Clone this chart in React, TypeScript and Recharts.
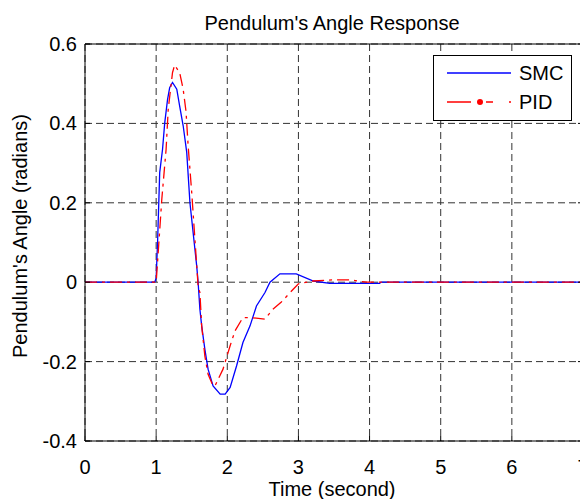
import { LineChart, Line, XAxis, YAxis, CartesianGrid } from 'recharts';

const smcTime = [0, 0.98, 1.0, 1.02, 1.05, 1.09, 1.12, 1.16, 1.19, 1.23, 1.29, 1.33, 1.38, 1.43, 1.475, 1.52, 1.57, 1.59, 1.615, 1.64, 1.685, 1.73, 1.8, 1.9, 1.97, 2.04, 2.13, 2.22, 2.32, 2.41, 2.53, 2.6, 2.74, 2.97, 3.21, 3.44, 4.14, 4.16, 7];
const smcAngle = [0, 0, 0.01, 0.1, 0.276, 0.335, 0.4, 0.46, 0.49, 0.503, 0.486, 0.444, 0.394, 0.327, 0.2, 0.125, 0.041, 0, -0.068, -0.11, -0.169, -0.219, -0.261, -0.282, -0.282, -0.265, -0.211, -0.152, -0.11, -0.06, -0.026, 0, 0.021, 0.021, 0.003, -0.003, -0.003, 0, 0];

const pidTime = [0, 1.0, 1.01, 1.08, 1.14, 1.17, 1.23, 1.26, 1.33, 1.38, 1.42, 1.45, 1.5, 1.545, 1.59, 1.615, 1.64, 1.685, 1.73, 1.8, 1.83, 1.94, 2.04, 2.11, 2.22, 2.32, 2.53, 2.64, 2.76, 2.93, 3.0, 3.21, 3.49, 3.72, 3.96, 7];
const pidAngle = [0, 0, 0.025, 0.21, 0.335, 0.436, 0.528, 0.547, 0.528, 0.486, 0.43, 0.343, 0.226, 0.108, -0.01, -0.026, -0.11, -0.186, -0.232, -0.261, -0.26, -0.219, -0.16, -0.122, -0.089, -0.089, -0.093, -0.068, -0.05, -0.017, -0.004, 0.003, 0.006, 0.006, 0, 0];

const xTicks = [0, 1, 2, 3, 4, 5, 6, 7];
const yTicks = [-0.4, -0.2, 0, 0.2, 0.4, 0.6];

const smcData = smcTime.map((t, i) => ({ t, angle: smcAngle[i] }));
const pidData = pidTime.map((t, i) => ({ t, angle: pidAngle[i] }));

const font = '"Liberation Sans", Arial, sans-serif';
const TICK = 5;

const BottomTick = ({ x, y, payload }: any) => (
  <g>
    <line x1={x} x2={x} y1={y} y2={y - TICK} stroke="#000" />
    <text x={x} y={y + 33} textAnchor="middle" fontSize={20} fontFamily={font} fill="#000">
      {payload.value}
    </text>
  </g>
);

const TopTick = ({ x, y }: any) => <line x1={x} x2={x} y1={y} y2={y + TICK} stroke="#000" />;

const LeftTick = ({ x, y, payload }: any) => (
  <g>
    <line x1={x} x2={x + TICK} y1={y} y2={y} stroke="#000" />
    <text x={x - 8} y={y + 7} textAnchor="end" fontSize={20} fontFamily={font} fill="#000">
      {payload.value}
    </text>
  </g>
);

const RightTick = ({ x, y }: any) => <line x1={x} x2={x - TICK} y1={y} y2={y} stroke="#000" />;

const label: React.CSSProperties = {
  position: 'absolute',
  fontFamily: font,
  fontSize: 20,
  lineHeight: '20px',
  whiteSpace: 'nowrap',
  color: '#000',
};

export default function App() {
  return (
    <div style={{ position: 'relative', width: 600, height: 499, background: '#fff' }}>
      <style>{'body{margin:0;overflow:hidden}'}</style>
      <LineChart width={600} height={499} margin={{ top: 43, right: 16, bottom: 28, left: 25 }}>
        <CartesianGrid stroke="#333" strokeDasharray="7 4" />
        <XAxis
          dataKey="t"
          type="number"
          domain={[0, 7]}
          ticks={xTicks}
          height={30}
          tickSize={0}
          tickMargin={0}
          tickLine={false}
          tick={BottomTick}
          axisLine={{ stroke: '#000' }}
          allowDataOverflow
        />
        <XAxis
          xAxisId="top"
          orientation="top"
          type="number"
          domain={[0, 7]}
          ticks={xTicks}
          height={1}
          tickSize={0}
          tickMargin={0}
          tickLine={false}
          tick={TopTick}
          axisLine={{ stroke: '#000' }}
          allowDataOverflow
        />
        <YAxis
          type="number"
          domain={[-0.4, 0.6]}
          ticks={yTicks}
          width={60}
          tickSize={0}
          tickMargin={0}
          tickLine={false}
          tick={LeftTick}
          axisLine={{ stroke: '#000' }}
          allowDataOverflow
        />
        <YAxis
          yAxisId="right"
          orientation="right"
          type="number"
          domain={[-0.4, 0.6]}
          ticks={yTicks}
          width={1}
          tickSize={0}
          tickMargin={0}
          tickLine={false}
          tick={RightTick}
          axisLine={{ stroke: '#000' }}
          allowDataOverflow
        />
        <Line
          data={smcData}
          dataKey="angle"
          type="linear"
          stroke="#0000ff"
          strokeWidth={1.3}
          dot={false}
          isAnimationActive={false}
        />
        <Line
          data={pidData}
          dataKey="angle"
          type="linear"
          stroke="#ff0000"
          strokeWidth={1.3}
          strokeDasharray="12 5 3 5"
          dot={false}
          isAnimationActive={false}
        />
      </LineChart>

      <div style={{ ...label, left: 332, top: 13, transform: 'translateX(-50%)' }}>Pendulum's Angle Response</div>
      <div style={{ ...label, left: 332, top: 479, transform: 'translateX(-50%)' }}>Time (second)</div>
      <div style={{ ...label, left: 20, top: 236, transform: 'translate(-50%, -50%) rotate(-90deg)' }}>
        Pendulum's Angle (radians)
      </div>

      <div
        style={{
          position: 'absolute',
          left: 433,
          top: 55,
          width: 137,
          height: 64,
          border: '1px solid #000',
          background: '#fff',
        }}
      >
        <svg width={137} height={64} style={{ position: 'absolute', left: 0, top: 0 }}>
          <line x1={13} x2={77} y1={17} y2={17} stroke="#0000ff" strokeWidth={1.3} />
          <line x1={13} x2={77} y1={46} y2={46} stroke="#ff0000" strokeWidth={1.3} strokeDasharray="24 15 7 16 2" />
          <circle cx={46} cy={46} r={3} fill="#ff0000" />
          <text x={85} y={24} fontSize={20} fontFamily={font} fill="#000">SMC</text>
          <text x={85} y={53} fontSize={20} fontFamily={font} fill="#000">PID</text>
        </svg>
      </div>
    </div>
  );
}
